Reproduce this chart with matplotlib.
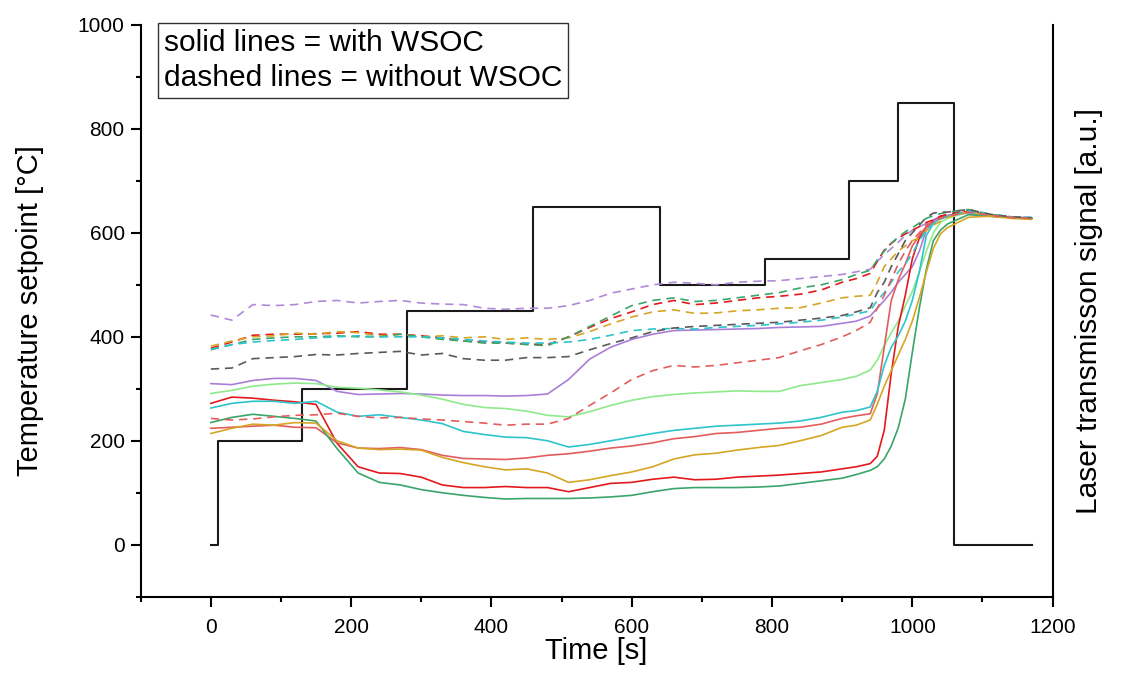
import matplotlib
matplotlib.use("Agg")
import matplotlib.pyplot as plt
from matplotlib.ticker import MultipleLocator

plt.rcParams["font.family"] = ["Liberation Sans", "DejaVu Sans"]

# temperature programme (setpoint held until the next time)
STEP_T = [0, 10, 130, 280, 460, 640, 790, 910, 980, 1060, 1170]
STEP_SET = [0, 200, 300, 450, 650, 500, 550, 700, 850, 0, 0]

# shared time base for the laser transmission curves
T = [0, 30, 60, 90, 120, 150, 180, 210, 240, 270, 300, 330, 360, 390, 420, 450,
     480, 510, 540, 570, 600, 630, 660, 690, 720, 750, 780, 810, 840, 870, 900,
     920, 940, 950, 960, 970, 980, 990, 1000, 1010, 1020, 1030, 1040, 1050,
     1080, 1110, 1140, 1170]

# solid lines = with WSOC
purple_solid = [310, 308, 316, 320, 320, 316, 295, 289, 290, 291, 290, 288, 287, 287, 286, 287,
                290, 318, 357, 380, 395, 405, 412, 413, 414, 415, 416, 418, 419, 420, 426,
                430, 440, 455, 470, 486, 505, 520, 535, 565, 605, 625, 632, 634,
                638, 632, 630, 628]
lightgreen_solid = [291, 297, 305, 309, 311, 310, 303, 301, 298, 294, 288, 280, 270, 264, 262, 257,
                    249, 246, 256, 268, 278, 285, 289, 292, 294, 296, 295, 295, 306, 312, 318,
                    324, 336, 355, 383, 408, 430, 460, 487, 525, 565, 600, 620, 628,
                    640, 633, 630, 628]
red_solid = [272, 284, 282, 278, 275, 270, 195, 150, 138, 137, 130, 115, 110, 110, 112, 110,
             110, 102, 110, 118, 120, 126, 130, 125, 126, 130, 132, 134, 137, 140, 146,
             150, 156, 170, 220, 330, 420, 480, 550, 590, 612, 622, 630, 632,
             642, 635, 630, 628]
salmon_solid = [224, 226, 228, 230, 226, 225, 196, 186, 185, 187, 183, 172, 166, 165, 164, 167,
                172, 175, 180, 186, 190, 196, 204, 208, 214, 216, 220, 224, 226, 232, 243,
                248, 252, 290, 380, 470, 510, 540, 575, 595, 612, 620, 628, 632,
                640, 634, 630, 629]
cyan_solid = [263, 272, 276, 276, 272, 276, 255, 247, 250, 245, 240, 233, 218, 212, 207, 206,
              200, 188, 193, 200, 207, 214, 220, 224, 228, 230, 232, 234, 238, 245, 255,
              258, 265, 295, 345, 380, 402, 430, 470, 525, 595, 618, 628, 632,
              640, 633, 630, 628]
green_solid = [235, 245, 251, 247, 243, 238, 185, 138, 120, 115, 106, 100, 95, 91, 88, 89,
               89, 89, 90, 92, 95, 102, 108, 110, 110, 110, 111, 113, 118, 123, 128,
               135, 143, 150, 165, 190, 225, 280, 370, 455, 530, 585, 605, 617,
               635, 632, 630, 628]
gold_solid = [214, 224, 232, 230, 235, 234, 200, 186, 183, 184, 182, 168, 158, 150, 144, 146,
              138, 120, 125, 133, 140, 150, 165, 173, 176, 182, 187, 191, 200, 210, 226,
              230, 240, 270, 305, 335, 365, 395, 430, 475, 525, 570, 598, 610,
              630, 632, 628, 626]

# dashed lines = without WSOC
purple_dashed = [442, 432, 462, 460, 462, 468, 470, 465, 468, 470, 465, 463, 462, 455, 453, 455,
                 455, 460, 470, 484, 492, 500, 505, 503, 500, 505, 507, 508, 512, 516, 520,
                 525, 530, 545, 558, 570, 582, 595, 605, 612, 618, 622, 628, 632,
                 640, 635, 630, 628]
red_dashed = [378, 390, 403, 405, 405, 406, 407, 410, 405, 405, 402, 398, 392, 390, 388, 386,
              385, 400, 418, 435, 448, 462, 470, 462, 465, 470, 475, 478, 482, 490, 505,
              512, 522, 545, 567, 580, 590, 598, 605, 612, 620, 625, 632, 636,
              642, 635, 630, 628]
gold_dashed = [382, 392, 400, 402, 407, 405, 410, 408, 402, 405, 400, 402, 398, 400, 395, 398,
               395, 398, 410, 425, 438, 448, 452, 445, 446, 450, 452, 455, 456, 465, 475,
               478, 480, 505, 535, 550, 565, 575, 585, 590, 605, 615, 622, 630,
               640, 634, 630, 628]
green_dashed = [375, 385, 395, 398, 400, 400, 402, 400, 400, 405, 400, 395, 392, 388, 388, 385,
                383, 400, 420, 440, 460, 470, 475, 468, 470, 475, 480, 485, 494, 500, 510,
                520, 528, 548, 565, 580, 592, 602, 610, 619, 628, 633, 637, 640,
                645, 636, 631, 628]
cyan_dashed = [376, 385, 390, 393, 395, 398, 400, 402, 400, 400, 400, 398, 395, 392, 390, 388,
               388, 390, 395, 403, 412, 415, 416, 415, 418, 420, 422, 425, 428, 432, 438,
               444, 450, 470, 485, 505, 525, 540, 560, 585, 605, 618, 626, 632,
               642, 636, 631, 630]
grey_dashed = [338, 340, 358, 360, 362, 366, 365, 368, 370, 372, 365, 368, 358, 355, 355, 360,
               360, 362, 375, 387, 398, 410, 417, 420, 422, 424, 426, 428, 432, 436, 441,
               448, 456, 485, 505, 535, 560, 585, 600, 615, 630, 638, 640, 640,
               645, 636, 631, 629]
salmon_dashed = [243, 240, 242, 246, 249, 250, 253, 247, 244, 245, 242, 240, 237, 234, 230, 232,
                 232, 243, 268, 292, 318, 335, 345, 342, 345, 350, 355, 360, 373, 385, 400,
                 412, 428, 455, 480, 510, 540, 565, 585, 600, 615, 622, 628, 632,
                 640, 634, 630, 628]

SOLID = [
    (purple_solid, "#a97fd6"),
    (lightgreen_solid, "#8eea8a"),
    (red_solid, "#e3191c"),
    (salmon_solid, "#e35d5d"),
    (cyan_solid, "#2ec4cc"),
    (green_solid, "#3aa56a"),
    (gold_solid, "#d5a524"),
]
DASHED = [
    (purple_dashed, "#b08ad8"),
    (red_dashed, "#e3191c"),
    (gold_dashed, "#d5a524"),
    (green_dashed, "#3aa56a"),
    (cyan_dashed, "#2ec4cc"),
    (grey_dashed, "#5a5a5a"),
    (salmon_dashed, "#e35d5d"),
]

fig = plt.figure(figsize=(11.27, 6.88), dpi=100)
ax = fig.add_axes([0.1248, 0.1327, 0.8092, 0.831])

ax.plot(STEP_T, STEP_SET, drawstyle="steps-post", color="#1a1a1a", lw=1.5, zorder=4)

ax.set_xlim(-100, 1200)
ax.set_ylim(-100, 1000)
ax.xaxis.set_major_locator(MultipleLocator(200))
ax.xaxis.set_minor_locator(MultipleLocator(100))
ax.yaxis.set_major_locator(MultipleLocator(200))
ax.yaxis.set_minor_locator(MultipleLocator(100))
ax.tick_params(which="major", length=7.5, width=1.5, direction="out", labelsize=15)
ax.tick_params(which="minor", length=3.8, width=1.5, direction="out")
ax.tick_params(axis="x", which="major", pad=8)
ax.tick_params(axis="y", which="major", pad=4)
for side in ("left", "bottom"):
    ax.spines[side].set_linewidth(1.5)
ax.spines["top"].set_visible(False)
ax.spines["right"].set_visible(False)

ax.set_xlabel("Time [s]", fontsize=21, labelpad=0)
ax.set_ylabel("Temperature setpoint [°C]", fontsize=21, labelpad=24)

# transmission signal on its own (unscaled) right axis
ax2 = ax.twinx()
ax2.set_ylim(-100, 1000)
ax2.set_yticks([])
for side in ("top", "left", "bottom"):
    ax2.spines[side].set_visible(False)
ax2.spines["right"].set_linewidth(1.5)
ax2.set_ylabel("Laser transmisson signal [a.u.]", fontsize=21.5, labelpad=16)

for vals, col in SOLID:
    ax2.plot(T, vals, color=col, lw=1.2, zorder=2)
for vals, col in DASHED:
    ax2.plot(T, vals, color=col, lw=1.2, linestyle=(0, (5, 3.5)), zorder=2)

ax2.text(
    0.0255, 0.993,
    "solid lines = with WSOC\ndashed lines = without WSOC",
    transform=ax.transAxes,
    ha="left", va="top",
    fontsize=21.5,
    linespacing=1.3,
    bbox=dict(boxstyle="square,pad=0.2", facecolor="white", edgecolor="#333333", linewidth=1.0),
    zorder=5,
)

fig.savefig("out.png", dpi=100, facecolor="white")
